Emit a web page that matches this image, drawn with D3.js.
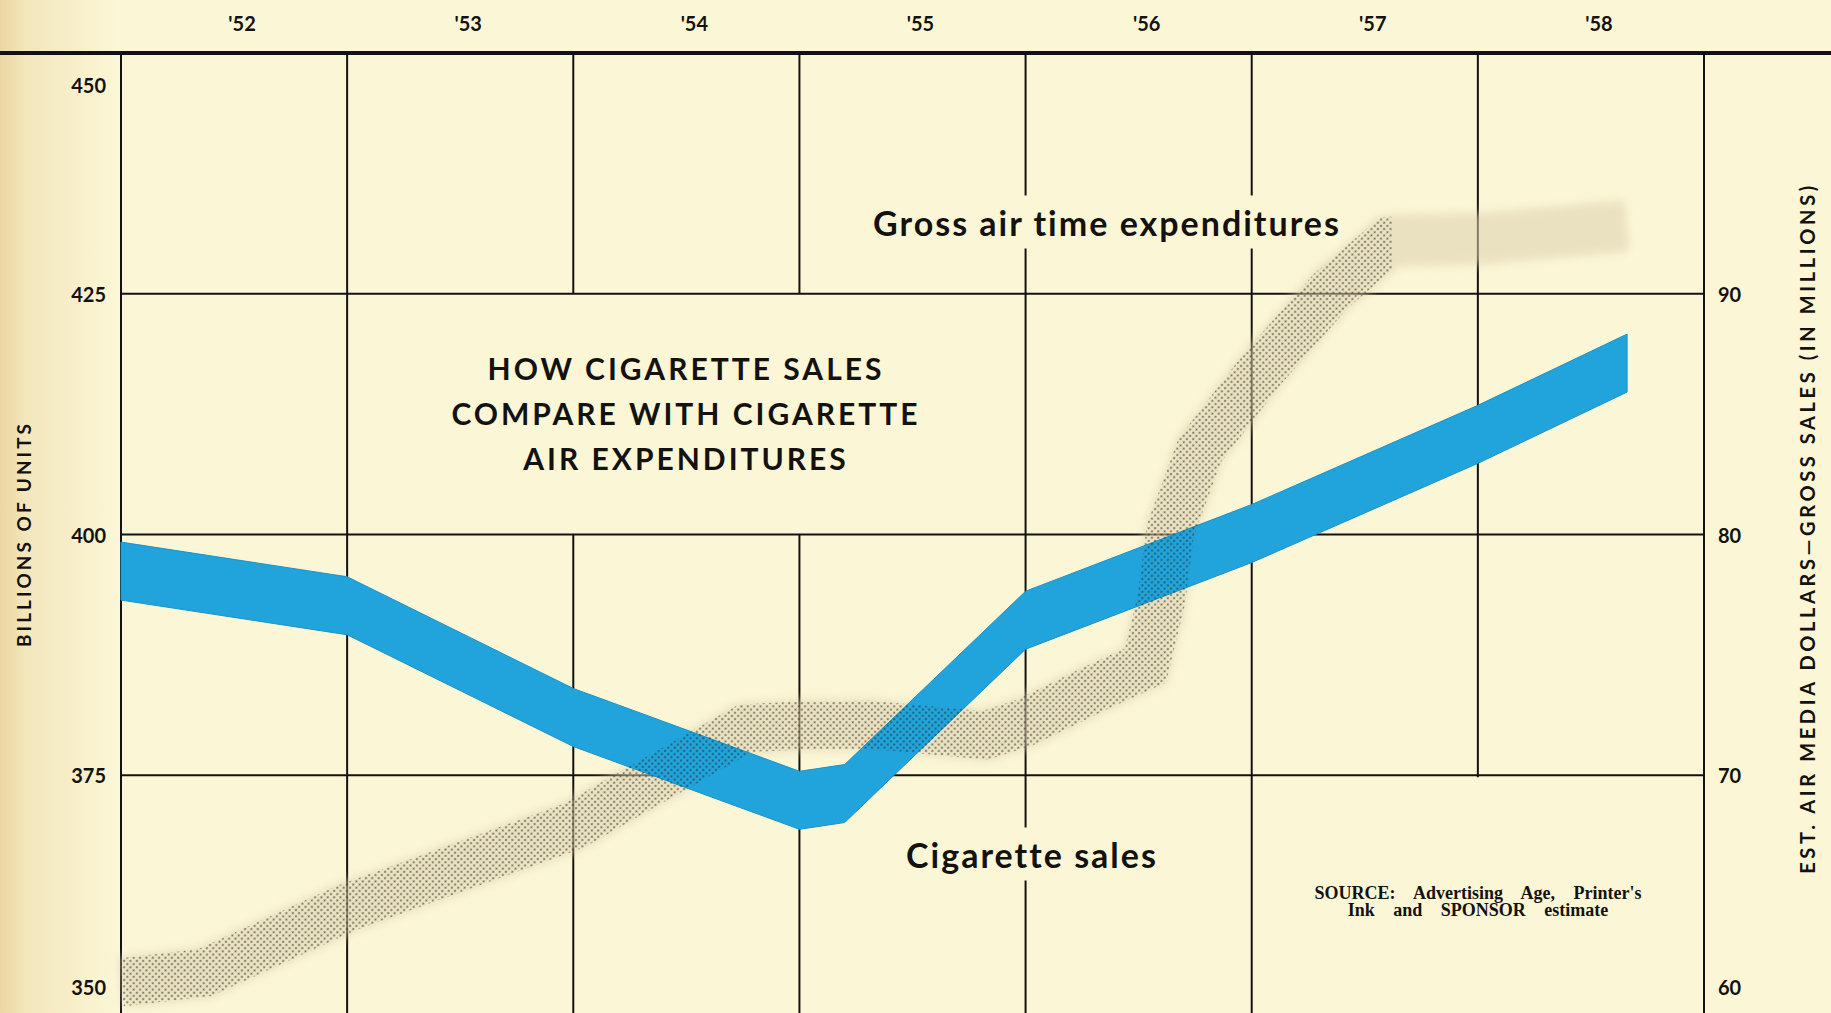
<!DOCTYPE html>
<html>
<head>
<meta charset="utf-8">
<script src="https://cdnjs.cloudflare.com/ajax/libs/d3/7.8.5/d3.min.js"></script>
<style>
  html, body { margin: 0; padding: 0; background: #fbf7d6; overflow: hidden; }
  svg { display: block; }
</style>
</head>
<body>
<div id="chart"></div>
<script>
var W = 1831, H = 1013;
var plot = { left: 121, right: 1704, top: 53, bottom: 1016 };

// year columns along the top
var years = [1952, 1953, 1954, 1955, 1956, 1957, 1958];
var yearLabels = ["'52", "'53", "'54", "'55", "'56", "'57", "'58"];

// left axis: billions of units, right axis: air dollars (millions)
var leftTicks = [350, 375, 400, 425, 450];
var rightTicks = [60, 70, 80, 90];

// cigarette sales (blue ribbon, left axis)
var salesYears = [1952, 1953, 1954, 1955, 1955.2, 1956, 1957, 1958, 1958.66];
var salesValues = [396.2, 392.6, 381.0, 372.4, 373.1, 391.1, 400.1, 410.4, 417.8];

// gross air time expenditures (stippled ribbon, right axis)
var airYears = [1952, 1952.37, 1953, 1954, 1954.76, 1955, 1955.31, 1955.82, 1956, 1956.29,
                1956.53, 1956.6, 1956.64, 1956.77, 1957.04, 1957.35, 1957.61, 1958.01, 1958.66];
var airValues = [61.4, 61.8, 64.5, 67.9, 71.95, 72.07, 72.1, 71.66, 72.2, 73.53,
                 74.56, 77.26, 80.17, 83.49, 86.8, 90.12, 92.2, 92.28, 92.82];

var titleLines = ["HOW CIGARETTE SALES", "COMPARE WITH CIGARETTE", "AIR EXPENDITURES"];
var sourceLines = ["SOURCE: Advertising Age, Printer's", "Ink and SPONSOR estimate"];

var bg = "#fbf7d6", ink = "#141210";
var sansFont = "Lato, 'Open Sans', sans-serif";

var x = d3.scaleLinear().domain([1952, 1959]).range([plot.left, plot.right]);
var yL = d3.scaleLinear().domain([350, 450]).range([plot.bottom, plot.top]);
var yR = d3.scaleLinear().domain([60, 100]).range([plot.bottom, plot.top]);

var svg = d3.select("#chart").append("svg")
    .attr("width", W)
    .attr("height", H);

var defs = svg.append("defs");

// page edge darkening on the left
var edge = defs.append("linearGradient").attr("id", "edge")
    .attr("x1", 0).attr("x2", 1).attr("y1", 0).attr("y2", 0);
edge.append("stop").attr("offset", 0).attr("stop-color", "#ead6a0");
edge.append("stop").attr("offset", 0.2).attr("stop-color", "#f3e6bb");
edge.append("stop").attr("offset", 1).attr("stop-color", bg);

var dots = defs.append("pattern").attr("id", "dots")
    .attr("width", 4.5).attr("height", 4.5)
    .attr("patternUnits", "userSpaceOnUse")
    .attr("patternTransform", "rotate(45)");
dots.append("circle").attr("cx", 2.25).attr("cy", 2.25).attr("r", 1.05).attr("fill", "#23211d");

defs.append("filter").attr("id", "soft")
    .attr("x", "-10%").attr("y", "-10%").attr("width", "120%").attr("height", "120%")
    .append("feGaussianBlur").attr("stdDeviation", 5);

defs.append("clipPath").attr("id", "dotClip")
    .append("rect")
    .attr("x", plot.left).attr("y", 0)
    .attr("width", x(1957.62) - plot.left).attr("height", H);

svg.append("rect").attr("width", W).attr("height", H).attr("fill", bg);
svg.append("rect").attr("width", 120).attr("height", H).attr("fill", "url(#edge)");

// vertical grid (year boundaries + both axis lines)
var gridYears = d3.range(1952, 1960);
svg.append("g").selectAll("line")
    .data(gridYears)
    .enter().append("line")
    .attr("x1", function (d) { return x(d); })
    .attr("x2", function (d) { return x(d); })
    .attr("y1", plot.top)
    .attr("y2", H)
    .attr("stroke", ink)
    .attr("stroke-width", 2);

var masks = svg.append("g");
var hGrid = svg.append("g");

// horizontal grid
hGrid.selectAll("line")
    .data([375, 400, 425])
    .enter().append("line")
    .attr("x1", plot.left)
    .attr("x2", plot.right)
    .attr("y1", function (d) { return yL(d); })
    .attr("y2", function (d) { return yL(d); })
    .attr("stroke", ink)
    .attr("stroke-width", 2.2);

// heavy top rule
hGrid.append("line")
    .attr("x1", 0).attr("x2", W)
    .attr("y1", plot.top).attr("y2", plot.top)
    .attr("stroke", ink)
    .attr("stroke-width", 4);

// ribbons
var airLine = d3.line()
    .x(function (d, i) { return x(airYears[i]); })
    .y(function (d) { return yR(d); });

svg.append("path")
    .datum(airValues)
    .attr("d", airLine)
    .attr("fill", "none")
    .attr("stroke", "#ddd0ae")
    .attr("stroke-opacity", 0.55)
    .attr("stroke-width", 52)
    .attr("stroke-linejoin", "miter")
    .attr("stroke-miterlimit", 2)
    .attr("filter", "url(#soft)");

var salesArea = d3.area()
    .x(function (d, i) { return x(salesYears[i]); })
    .y0(function (d) { return yL(d) + 29; })
    .y1(function (d) { return yL(d) - 29; });

svg.append("path")
    .datum(salesValues)
    .attr("d", salesArea)
    .attr("fill", "#21a4db")
    .attr("stroke", "#1b92c6")
    .attr("stroke-width", 1);

svg.append("path")
    .datum(airValues)
    .attr("d", airLine)
    .attr("fill", "none")
    .attr("stroke", "url(#dots)")
    .attr("stroke-opacity", 0.62)
    .attr("stroke-width", 48)
    .attr("stroke-linejoin", "miter")
    .attr("stroke-miterlimit", 2)
    .attr("clip-path", "url(#dotClip)");

// year labels
svg.append("g").selectAll("text")
    .data(years)
    .enter().append("text")
    .attr("x", function (d) { return x(d + 0.5) + 8; })
    .attr("y", 23)
    .attr("text-anchor", "middle")
    .attr("dominant-baseline", "central")
    .attr("font-family", sansFont)
    .attr("font-weight", "bold")
    .attr("font-size", 20)
    .attr("fill", ink)
    .text(function (d, i) { return yearLabels[i]; });

// tick labels, kept inside the frame at the extremes
function clampY(y) { return Math.max(plot.top + 32, Math.min(plot.bottom - 29, y)); }

svg.append("g").selectAll("text")
    .data(leftTicks)
    .enter().append("text")
    .attr("x", 106)
    .attr("y", function (d) { return clampY(yL(d)); })
    .attr("text-anchor", "end")
    .attr("dominant-baseline", "central")
    .attr("font-family", sansFont)
    .attr("font-weight", "bold")
    .attr("font-size", 20)
    .attr("fill", ink)
    .text(function (d) { return d; });

svg.append("g").selectAll("text")
    .data(rightTicks)
    .enter().append("text")
    .attr("x", 1718)
    .attr("y", function (d) { return clampY(yR(d)); })
    .attr("text-anchor", "start")
    .attr("dominant-baseline", "central")
    .attr("font-family", sansFont)
    .attr("font-weight", "bold")
    .attr("font-size", 20)
    .attr("fill", ink)
    .text(function (d) { return d; });

// axis titles
svg.append("text")
    .attr("transform", "translate(23," + 534 + ") rotate(-90)")
    .attr("text-anchor", "middle")
    .attr("dominant-baseline", "central")
    .attr("font-family", sansFont)
    .attr("font-weight", "bold")
    .attr("font-size", 19)
    .attr("letter-spacing", 3)
    .attr("fill", ink)
    .text("BILLIONS OF UNITS");

svg.append("text")
    .attr("transform", "translate(1807," + 528 + ") rotate(-90)")
    .attr("text-anchor", "middle")
    .attr("dominant-baseline", "central")
    .attr("font-family", sansFont)
    .attr("font-weight", "bold")
    .attr("font-size", 20)
    .attr("letter-spacing", 3.6)
    .attr("fill", ink)
    .text("EST. AIR MEDIA DOLLARS\u2014GROSS SALES (IN MILLIONS)");

// chart title
var title = svg.append("text")
    .attr("text-anchor", "middle")
    .attr("font-family", sansFont)
    .attr("font-weight", "bold")
    .attr("font-size", 30)
    .attr("letter-spacing", 3)
    .attr("fill", ink);
title.selectAll("tspan")
    .data(titleLines)
    .enter().append("tspan")
    .attr("x", 686)
    .attr("y", function (d, i) { return 368 + i * 45; })
    .attr("dominant-baseline", "central")
    .text(function (d) { return d; });

var tb = title.node().getBBox();
masks.append("rect")
    .attr("x", tb.x - 24).attr("width", tb.width + 48)
    .attr("y", yL(425)).attr("height", yL(400) - yL(425))
    .attr("fill", bg);

// series labels
function seriesLabel(txt, cx, cy) {
    var t = svg.append("text")
        .attr("x", cx).attr("y", cy)
        .attr("text-anchor", "middle")
        .attr("dominant-baseline", "central")
        .attr("font-family", sansFont)
        .attr("font-weight", "bold")
        .attr("font-size", 34)
        .attr("letter-spacing", 2)
        .attr("fill", ink)
        .text(txt);
    var b = t.node().getBBox();
    masks.append("rect")
        .attr("x", b.x - 14).attr("width", b.width + 28)
        .attr("y", b.y - 6).attr("height", b.height + 12)
        .attr("fill", bg);
}
seriesLabel("Gross air time expenditures", 1107, 222);
seriesLabel("Cigarette sales", 1032, 854);

// source note
var src = svg.append("text")
    .attr("text-anchor", "middle")
    .attr("font-family", "'Liberation Serif', 'DejaVu Serif', serif")
    .attr("font-weight", "bold")
    .attr("font-size", 18)
    .attr("word-spacing", 14)
    .attr("fill", ink);
src.selectAll("tspan")
    .data(sourceLines)
    .enter().append("tspan")
    .attr("x", 1478)
    .attr("y", function (d, i) { return 899 + i * 17; })
    .text(function (d) { return d; });

var sb = src.node().getBBox();
masks.append("rect")
    .attr("x", sb.x - 16).attr("width", sb.width + 32)
    .attr("y", yL(375) + 2).attr("height", H - yL(375))
    .attr("fill", bg);
</script>
</body>
</html>
